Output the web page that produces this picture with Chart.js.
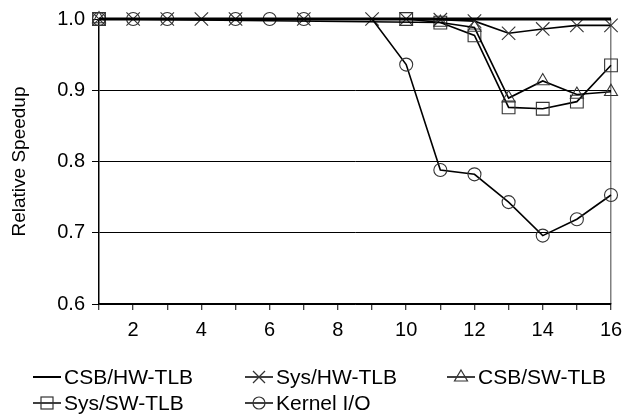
<!DOCTYPE html>
<html>
<head>
<meta charset="utf-8">
<script src="https://cdn.jsdelivr.net/npm/chart.js@4.4.1/dist/chart.umd.min.js"></script>
<style>
  html, body { margin: 0; padding: 0; background: #fff; }
  #wrap { position: relative; width: 631px; height: 416px; }
  canvas { position: absolute; left: 0; top: 0; }
  .leg { position: absolute; font-family: "Liberation Sans", Arial, sans-serif; font-size: 21px; color: #000; white-space: nowrap; line-height: 24px; }
  .leg svg { position: absolute; top: 2px; }
  .leg span { position: absolute; top: 0; }
</style>
</head>
<body>
<div id="wrap">
  <canvas id="c" width="631" height="416"></canvas>
</div>
<script>
// ---- data ----
const xValues = [1, 2, 3, 4, 5, 6, 7, 8, 9, 10, 11, 12, 13, 14, 15, 16];
const yTicks = [0.6, 0.7, 0.8, 0.9, 1.0];
const csbHwTlb = [1, 1, 1, 1, 1, 1, 1, 1, 1, 1, 1, 1, 1, 1, 1, 1];
const sysHwTlb = [1, 1, 1, 1, 1, null, 1, null, 1, 1, 0.999, 0.997, 0.980, 0.986, 0.991, 0.991];
const csbSwTlb = [1, null, null, null, null, null, null, null, null, null, 0.995, 0.988, 0.889, 0.913, 0.894, 0.898];
const sysSwTlb = [1, null, null, null, null, null, null, null, null, 1, 0.995, 0.977, 0.876, 0.874, 0.884, 0.935];
const kernelIO = [1, 1, 1, null, 1, 1, 1, null, 1, 0.936, 0.788, 0.782, 0.743, 0.696, 0.719, 0.753];
const seriesNames = ['CSB/HW-TLB', 'Sys/HW-TLB', 'CSB/SW-TLB', 'Sys/SW-TLB', 'Kernel I/O'];

const FONT = '"Liberation Sans", Arial, sans-serif';
const markerColor = '#333';

function ds(label, data, style, radius, extra) {
  return Object.assign({
    label, data,
    borderColor: '#000',
    borderWidth: 1.6,
    pointStyle: style,
    pointRadius: radius,
    pointBorderColor: markerColor,
    pointBackgroundColor: 'rgba(0,0,0,0)',
    pointBorderWidth: 1.1,
    spanGaps: true,
    tension: 0,
    clip: false
  }, extra || {});
}

const chart = new Chart(document.getElementById('c'), {
  type: 'line',
  data: {
    labels: xValues.map(String),
    datasets: [
      ds(seriesNames[0], csbHwTlb, 'circle', 0, { borderWidth: 3 }),
      ds(seriesNames[2], csbSwTlb, 'triangle', 7.5),
      ds(seriesNames[3], sysSwTlb, 'rect', 9),
      ds(seriesNames[4], kernelIO, 'circle', (ctx) => ctx.dataIndex === 8 ? 0 : 6.5),
      ds(seriesNames[1], sysHwTlb, 'crossRot', 9.5)
    ]
  },
  options: {
    responsive: false,
    animation: false,
    events: [],
    layout: { padding: { left: 0, right: 20, top: 16, bottom: 72 } },
    plugins: { legend: { display: false }, tooltip: { enabled: false } },
    scales: {
      x: {
        type: 'category',
        offset: false,
        afterFit: (s) => { s.height = 40; },
        border: { display: true, color: '#000', width: 1.5 },
        grid: {
          display: true,
          drawOnChartArea: true,
          drawTicks: true,
          tickLength: 6,
          offset: false,
          color: (ctx) => ctx.index === xValues.length - 1 ? '#808080' : 'rgba(0,0,0,0)',
          tickColor: '#000',
          lineWidth: 1.5,
          tickWidth: 1
        },
        ticks: {
          autoSkip: false,
          maxRotation: 0,
          padding: 8,
          color: '#000',
          font: { family: FONT, size: 20 },
          callback: function (v, i) { const x = xValues[i]; return x % 2 === 0 ? String(x) : ''; }
        }
      },
      y: {
        min: yTicks[0],
        max: yTicks[yTicks.length - 1],
        afterFit: (s) => { s.width = 99; },
        afterBuildTicks: (s) => { s.ticks = yTicks.map(v => ({ value: v })); },
        border: { display: true, color: '#000', width: 1.5 },
        grid: {
          color: '#000',
          lineWidth: 1,
          tickLength: 7,
          tickColor: '#000'
        },
        ticks: {
          padding: 7,
          color: '#000',
          font: { family: FONT, size: 20 },
          callback: (v) => Number(v).toFixed(1)
        },
        title: {
          display: true,
          text: 'Relative Speedup',
          color: '#000',
          font: { family: FONT, size: 19 },
          padding: { top: 8, bottom: 0 }
        }
      }
    }
  }
});

// ---- legend (HTML text with small SVG symbols) ----
const symbols = {
  'CSB/HW-TLB': '<line x1="0" y1="10" x2="28" y2="10" stroke="#000" stroke-width="2"/>',
  'Sys/HW-TLB': '<line x1="0" y1="10" x2="28" y2="10" stroke="#000" stroke-width="1.5"/><line x1="8" y1="4" x2="20" y2="16" stroke="#333" stroke-width="1.2"/><line x1="8" y1="16" x2="20" y2="4" stroke="#333" stroke-width="1.2"/>',
  'CSB/SW-TLB': '<line x1="0" y1="10" x2="28" y2="10" stroke="#000" stroke-width="1.5"/><polygon points="14,3 20.5,14 7.5,14" fill="none" stroke="#333" stroke-width="1.2"/>',
  'Sys/SW-TLB': '<line x1="0" y1="10" x2="28" y2="10" stroke="#000" stroke-width="1.5"/><rect x="8" y="4" width="12" height="12" fill="none" stroke="#333" stroke-width="1.2"/>',
  'Kernel I/O': '<line x1="0" y1="10" x2="28" y2="10" stroke="#000" stroke-width="1.5"/><circle cx="14" cy="10" r="6" fill="none" stroke="#333" stroke-width="1.2"/>'
};
const legendLayout = [
  { name: seriesNames[0], x: 33, y: 365 },
  { name: seriesNames[1], x: 245, y: 365 },
  { name: seriesNames[2], x: 447, y: 365 },
  { name: seriesNames[3], x: 33, y: 391 },
  { name: seriesNames[4], x: 245, y: 391 }
];
const wrap = document.getElementById('wrap');
legendLayout.forEach(it => {
  const d = document.createElement('div');
  d.className = 'leg';
  d.style.left = it.x + 'px';
  d.style.top = it.y + 'px';
  d.innerHTML = '<svg width="28" height="20" viewBox="0 0 28 20">' + symbols[it.name] + '</svg><span style="left:31px">' + it.name + '</span>';
  wrap.appendChild(d);
});
</script>
</body>
</html>
